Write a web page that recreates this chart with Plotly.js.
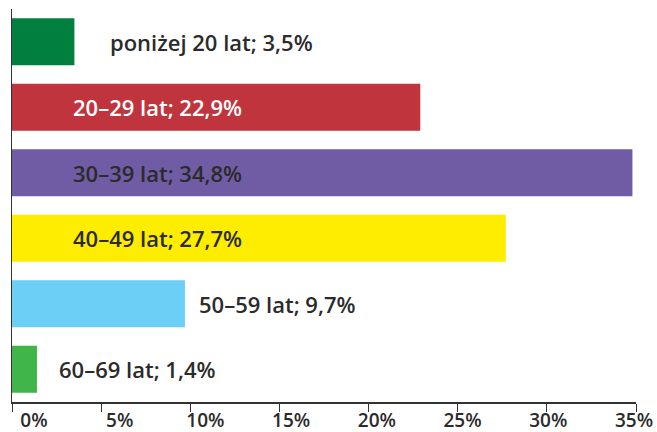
<!DOCTYPE html>
<html>
<head>
<meta charset="utf-8">
<script src="https://cdn.plot.ly/plotly-3.0.1.min.js"></script>
<style>
  html, body { margin: 0; padding: 0; background: #fff; }
  #chart { width: 657px; height: 432px; }
</style>
</head>
<body>
<div id="chart"></div>
<script>
// age groups, top to bottom
let categories = ['poniżej 20 lat', '20–29 lat', '30–39 lat', '40–49 lat', '50–59 lat', '60–69 lat'];
let values = [3.5, 22.9, 34.8, 27.7, 9.7, 1.4];
let tickValues = [0, 5, 10, 15, 20, 25, 30, 35];

let barColors = ['#007f3f', '#c0353d', '#705ca4', '#ffed00', '#6ccff6', '#40b549'];
let labelColors = ['#2b2b2b', '#ffffff', '#2b2b2b', '#2b2b2b', '#2b2b2b', '#2b2b2b'];
// where each label starts (in % units along the axis)
let labelStart = [5.36, 3.3, 3.3, 3.3, 10.4, 2.5];

let fontFamily = '"Open Sans", Lato, sans-serif';

let trace = {
	type: 'bar',
	orientation: 'h',
	x: values,
	y: categories,
	marker: { color: barColors, line: { width: 0 } },
	hoverinfo: 'none'
};

// empty trace so the label axis (x2) gets drawn
let labelTrace = {
	type: 'scatter',
	mode: 'markers',
	x: [tickValues[0]],
	y: [categories[0]],
	xaxis: 'x2',
	marker: { opacity: 0 },
	hoverinfo: 'none'
};

let annotations = [];
for (let i = 0; i < categories.length; i++) {
	annotations.push({
		x: labelStart[i],
		y: categories[i],
		xref: 'x',
		yref: 'y',
		xanchor: 'left',
		yanchor: 'middle',
		showarrow: false,
		text: categories[i] + '; ' + values[i].toFixed(1).replace('.', ',') + '%',
		font: { family: fontFamily, size: 22, color: labelColors[i], weight: 600 }
	});
}

let layout = {
	width: 657,
	height: 432,
	margin: { l: 12, r: 21, t: 9, b: 30, pad: 0 },
	paper_bgcolor: '#ffffff',
	plot_bgcolor: '#ffffff',
	showlegend: false,
	bargap: 0.28,
	xaxis: {
		range: [0, 35],
		tickvals: tickValues,
		showticklabels: false,
		ticks: 'outside',
		ticklen: 8,
		tickcolor: '#333333',
		tickwidth: 1,
		showline: true,
		linecolor: '#333333',
		linewidth: 1.5,
		showgrid: false,
		zeroline: false,
		fixedrange: true
	},
	// tick labels sit a little right of their ticks in the original, spread evenly
	xaxis2: {
		overlaying: 'x',
		anchor: 'y',
		side: 'bottom',
		range: [-1.283, 35.117],
		tickvals: tickValues,
		ticktext: tickValues.map(v => v + '%'),
		ticks: '',
		showline: false,
		showgrid: false,
		zeroline: false,
		fixedrange: true,
		ticklabelstandoff: 5,
		tickfont: { family: fontFamily, size: 19, color: '#2b2b2b', weight: 600 }
	},
	yaxis: {
		autorange: 'reversed',
		showticklabels: false,
		ticks: '',
		showline: true,
		linecolor: '#333333',
		linewidth: 1.5,
		showgrid: false,
		zeroline: false,
		fixedrange: true
	},
	annotations: annotations
};

Plotly.newPlot('chart', [trace, labelTrace], layout, { displayModeBar: false, staticPlot: true });
</script>
</body>
</html>
